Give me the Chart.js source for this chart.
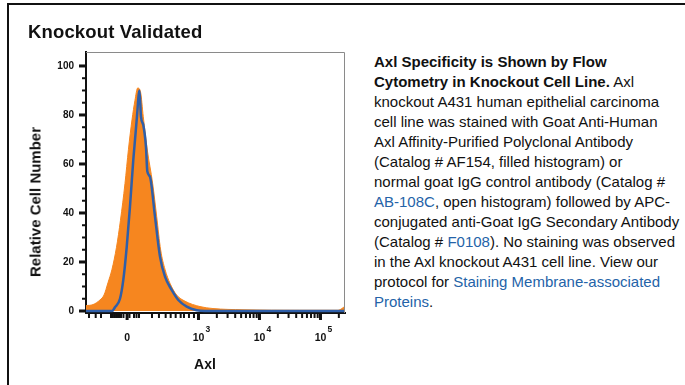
<!DOCTYPE html>
<html>
<head>
<meta charset="utf-8">
<script src="https://cdn.jsdelivr.net/npm/chart.js@4.4.1/dist/chart.umd.min.js"></script>
<style>
  body { margin: 0; background: #fff; font-family: "Liberation Sans", Arial, sans-serif; color: #111; }
  #page { position: relative; width: 685px; height: 385px; overflow: hidden; }
  #frame { position: absolute; left: 7px; top: 3px; width: 720px; height: 420px; border-top: 2px solid #111; border-left: 2px solid #111; }
  #chartBox { position: absolute; left: 0; top: 0; width: 360px; height: 385px; }
  .txt { position: absolute; white-space: nowrap; }
  #heading { left: 28px; top: 22px; font-size: 18.5px; letter-spacing: 0.15px; font-weight: bold; line-height: 20px; }
  #yTitle { left: 35px; top: 202px; font-size: 15px; font-weight: bold; line-height: 15px; transform: translate(-50%, -50%) rotate(-90deg); }
  #xTitle { left: 205px; top: 357px; font-size: 14px; font-weight: bold; line-height: 14px; transform: translateX(-50%); }
  #caption { left: 374px; top: 52px; font-size: 15px; line-height: 20px; }
  #caption a { color: #2463a8; text-decoration: none; }
</style>
</head>
<body>
<div id="page">
  <div id="frame"></div>
  <div id="chartBox"><canvas id="flowChart"></canvas></div>
  <div class="txt" id="heading">Knockout Validated</div>
  <div class="txt" id="yTitle">Relative Cell Number</div>
  <div class="txt" id="xTitle">Axl</div>
  <div class="txt" id="caption">
    <b>Axl Specificity is Shown by Flow</b><br>
    <b>Cytometry in Knockout Cell Line.</b> Axl<br>
    knockout A431 human epithelial carcinoma<br>
    cell line was stained with Goat Anti-Human<br>
    Axl Affinity-Purified Polyclonal Antibody<br>
    (Catalog # AF154, filled histogram) or<br>
    normal goat IgG control antibody (Catalog #<br>
    <a>AB-108C</a>, open histogram) followed by APC-<br>
    conjugated anti-Goat IgG Secondary Antibody<br>
    (Catalog # <a>F0108</a>). No staining was observed<br>
    in the Axl knockout A431 cell line. View our<br>
    protocol for <a>Staining Membrane-associated</a><br>
    <a>Proteins</a>.
  </div>
</div>
<script>
// x 轴用显示单位（十进位），10^3 = 3, 10^4 = 4, 10^5 = 5
const xMin = 1.156;
const xMax = 5.402;

// Axl 抗体（实心直方图）
const axlX = [1.156, 1.270, 1.385, 1.451, 1.516, 1.582, 1.656, 1.721, 1.795, 1.852, 1.910, 1.959, 2.003, 2.049, 2.095, 2.161, 2.249, 2.315, 2.380, 2.451, 2.533, 2.643, 2.779, 3.025, 3.238, 3.730, 4.664, 5.287, 5.352, 5.402];
const axlY = [2.2, 2.6, 4.5, 6.5, 11.5, 17, 26, 37, 52, 66, 78, 86, 91, 89.5, 79.3, 65.7, 52, 38.5, 24.9, 17, 11.3, 6.5, 4, 1.8, 1, 0.5, 0.3, 0.3, 1, 2];

// 对照 IgG（空心直方图）
const ctrlX = [1.156, 1.582, 1.631, 1.713, 1.767, 1.823, 1.877, 1.931, 1.987, 2.033, 2.057, 2.095, 2.139, 2.161, 2.205, 2.287, 2.369, 2.451, 2.561, 2.669, 2.807, 2.970, 3.107, 5.402];
const ctrlY = [0, 0, 1.5, 5, 12.6, 26, 42.6, 61.6, 78, 90, 79.3, 75.9, 67, 57, 54.8, 38.5, 22.2, 14, 8.6, 4.5, 1.8, 0.3, 0, 0];

// 刻度
const yMajorTicks = [0, 20, 40, 60, 80, 100];
const yMinorTicks = [5, 10, 15, 25, 30, 35, 45, 50, 55, 65, 70, 75, 85, 90, 95];
const xMajorTicks = [1.83, 3, 4, 5];
const xTickBase = ['0', '10', '10', '10'];
const xTickExp = ['', '3', '4', '5'];
const xMinorTicks = [1.205, 1.315, 1.402, 1.566, 1.598, 1.631, 1.664, 1.697, 1.730, 1.770, 1.869, 1.943, 1.984, 2.025,
  2.238, 2.352, 2.462, 2.544, 2.626, 2.708, 2.762, 2.844, 2.926,
  3.301, 3.477, 3.602, 3.699, 3.778, 3.845, 3.903, 3.954,
  4.301, 4.477, 4.602, 4.699, 4.778, 4.845, 4.903, 4.954, 5.301];

const toPoints = (xs, ys) => xs.map((x, i) => ({ x: x, y: ys[i] }));

// 边框和刻度线
const frameTicks = {
  id: 'frameTicks',
  afterDraw(chart) {
    const { ctx, chartArea: a, scales: { x, y } } = chart;
    ctx.save();
    ctx.strokeStyle = '#8a8a8a';
    ctx.lineWidth = 1;
    ctx.beginPath();
    ctx.moveTo(a.left, a.top + 0.5);
    ctx.lineTo(a.right - 0.5, a.top + 0.5);
    ctx.lineTo(a.right - 0.5, a.bottom);
    ctx.stroke();

    ctx.fillStyle = '#111';
    yMinorTicks.forEach(v => {
      const p = y.getPixelForValue(v);
      ctx.fillRect(a.left - 4, p - 1, 3, 2);
    });
    yMajorTicks.forEach(v => {
      const p = y.getPixelForValue(v);
      ctx.fillRect(a.left - 7, p - 1.5, 6, 3);
    });
    xMinorTicks.forEach(v => {
      const p = x.getPixelForValue(v);
      ctx.fillRect(p - 1, a.bottom + 1, 2, 4);
    });
    xMajorTicks.forEach(v => {
      const p = x.getPixelForValue(v);
      ctx.fillRect(p - 1.5, a.bottom + 1, 3, 6);
    });

    ctx.textAlign = 'center';
    ctx.textBaseline = 'alphabetic';
    xMajorTicks.forEach((v, i) => {
      const p = x.getPixelForValue(v);
      ctx.font = 'bold 10.5px "Liberation Sans", Arial';
      ctx.fillText(xTickBase[i], p, a.bottom + 28);
      if (xTickExp[i]) {
        ctx.font = 'bold 8.5px "Liberation Sans", Arial';
        ctx.textAlign = 'left';
        ctx.fillText(xTickExp[i], p + 7, a.bottom + 19);
        ctx.textAlign = 'center';
      }
    });
    ctx.restore();
  }
};

function init() {
  const ctx = document.getElementById('flowChart').getContext('2d');
  new Chart(ctx, {
    type: 'line',
    data: {
      datasets: [
        {
          label: 'Control IgG',
          data: toPoints(ctrlX, ctrlY),
          borderColor: '#2f5fa9',
          borderWidth: 2.5,
          fill: false,
          pointRadius: 0,
          cubicInterpolationMode: 'monotone'
        },
        {
          label: 'AF154',
          data: toPoints(axlX, axlY),
          borderColor: '#f6861f',
          backgroundColor: '#f6861f',
          borderWidth: 1,
          fill: 'origin',
          pointRadius: 0,
          cubicInterpolationMode: 'monotone'
        }
      ]
    },
    options: {
      responsive: true,
      maintainAspectRatio: false,
      animation: false,
      layout: { padding: { left: 0, top: 52, right: 15, bottom: 72 } },
      plugins: { legend: { display: false }, tooltip: { enabled: false } },
      scales: {
        x: {
          type: 'linear',
          min: xMin,
          max: xMax,
          ticks: { display: false },
          grid: { display: false },
          border: { display: true, color: '#111', width: 2 },
          afterFit(scale) { scale.height = 0; }
        },
        y: {
          min: -0.82,
          max: 105.7,
          grid: { display: false, drawTicks: false },
          border: { display: true, color: '#111', width: 2 },
          ticks: {
            padding: 12,
            color: '#111',
            font: { family: '"Liberation Sans", Arial', size: 10, weight: 'bold' }
          },
          afterBuildTicks(scale) { scale.ticks = yMajorTicks.map(v => ({ value: v })); },
          afterFit(scale) { scale.width = 86; }
        }
      }
    },
    plugins: [frameTicks]
  });
}

window.addEventListener('load', init);
</script>
</body>
</html>
